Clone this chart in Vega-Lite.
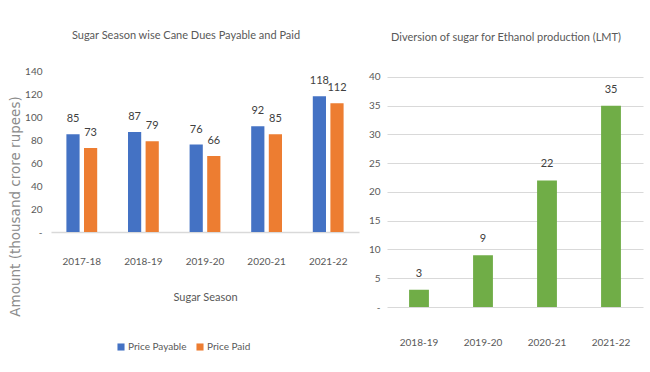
{
  "$schema": "https://vega.github.io/schema/vega-lite/v6.json",
  "padding": {"left": 8, "top": 30, "right": 5, "bottom": 0},
  "background": "white",
  "spacing": 9,
  "config": {
    "font": "Lato",
    "view": {"stroke": null},
    "axis": {"labelColor": "#595959", "labelFont": "Lato", "labelFontSize": 10, "ticks": false},
    "title": {"color": "#595959", "fontWeight": "normal", "font": "Lato"}
  },
  "datasets": {
    "dues": [
      {"season": "2017-18", "series": "Price Payable", "value": 85},
      {"season": "2017-18", "series": "Price Paid", "value": 73},
      {"season": "2018-19", "series": "Price Payable", "value": 87},
      {"season": "2018-19", "series": "Price Paid", "value": 79},
      {"season": "2019-20", "series": "Price Payable", "value": 76},
      {"season": "2019-20", "series": "Price Paid", "value": 66},
      {"season": "2020-21", "series": "Price Payable", "value": 92},
      {"season": "2020-21", "series": "Price Paid", "value": 85},
      {"season": "2021-22", "series": "Price Payable", "value": 118},
      {"season": "2021-22", "series": "Price Paid", "value": 112}
    ],
    "ethanol": [
      {"season": "2018-19", "value": 3},
      {"season": "2019-20", "value": 9},
      {"season": "2020-21", "value": 22},
      {"season": "2021-22", "value": 35}
    ]
  },
  "hconcat": [
    {
      "width": 308,
      "height": 161,
      "data": {"name": "dues"},
      "title": {"text": "Sugar Season wise Cane Dues Payable and Paid", "fontSize": 11, "offset": 25, "dx": -19},
      "encoding": {
        "x": {
          "field": "season", "type": "nominal",
          "scale": {"paddingInner": 0.5, "paddingOuter": 0.25},
          "axis": {"labelAngle": 0, "labelPadding": 24, "domainColor": "#D9D9D9", "domainWidth": 1.5, "title": "Sugar Season", "titleFontSize": 11, "titleColor": "#595959", "titleFontWeight": "normal", "titlePadding": 25}
        },
        "xOffset": {"field": "series", "type": "nominal", "sort": ["Price Payable", "Price Paid"], "scale": {"paddingInner": 0.25, "paddingOuter": 0}},
        "y": {
          "field": "value", "type": "quantitative",
          "scale": {"domain": [0, 140], "nice": false},
          "axis": {"values": [0, 20, 40, 60, 80, 100, 120, 140], "grid": false, "domain": false, "labelPadding": 9, "labelExpr": "datum.value == 0 ? '-' : datum.label",
            "title": "Amount (thousand crore rupees)", "titleFont": "DejaVu Sans", "titleFontSize": 13.5, "titleColor": "#8C8C8C", "titleFontWeight": "normal", "titleX": -28.5, "titleY": 135}
        }
      },
      "layer": [
        {
          "mark": {"type": "bar"},
          "encoding": {
            "color": {
              "field": "series", "type": "nominal", "sort": ["Price Payable", "Price Paid"],
              "scale": {"domain": ["Price Payable", "Price Paid"], "range": ["#4472C4", "#ED7D31"]},
              "legend": {"title": null, "orient": "none", "direction": "horizontal", "legendX": 65, "legendY": 271, "symbolType": "square", "symbolSize": 50, "symbolStrokeWidth": 0, "labelFontSize": 10, "labelColor": "#595959", "columnPadding": 8, "labelOffset": 2}
            }
          }
        },
        {
          "mark": {"type": "text", "baseline": "bottom", "dy": -10, "fontSize": 11, "color": "#404040"},
          "encoding": {"text": {"field": "value", "type": "quantitative"}}
        }
      ]
    },
    {
      "width": 256,
      "height": 236,
      "data": {"name": "ethanol"},
      "title": {"text": "Diversion of sugar for Ethanol production (LMT)", "fontSize": 11, "offset": 28, "dx": -9},
      "encoding": {
        "x": {
          "field": "season", "type": "nominal",
          "scale": {"paddingInner": 0.69, "paddingOuter": 0.345},
          "axis": {"labelAngle": 0, "labelPadding": 30, "domain": false, "title": null}
        },
        "y": {
          "field": "value", "type": "quantitative",
          "scale": {"domain": [0, 41.04], "nice": false},
          "axis": {"values": [0, 5, 10, 15, 20, 25, 30, 35, 40], "grid": true, "gridColor": "#D9D9D9", "domain": false, "labelPadding": 7, "labelExpr": "datum.value == 0 ? '-' : datum.label", "title": null}
        }
      },
      "layer": [
        {"mark": {"type": "bar", "color": "#70AD47"}},
        {
          "mark": {"type": "text", "baseline": "bottom", "dy": -11, "fontSize": 11, "color": "#404040"},
          "encoding": {"text": {"field": "value", "type": "quantitative"}}
        }
      ]
    }
  ]
}
